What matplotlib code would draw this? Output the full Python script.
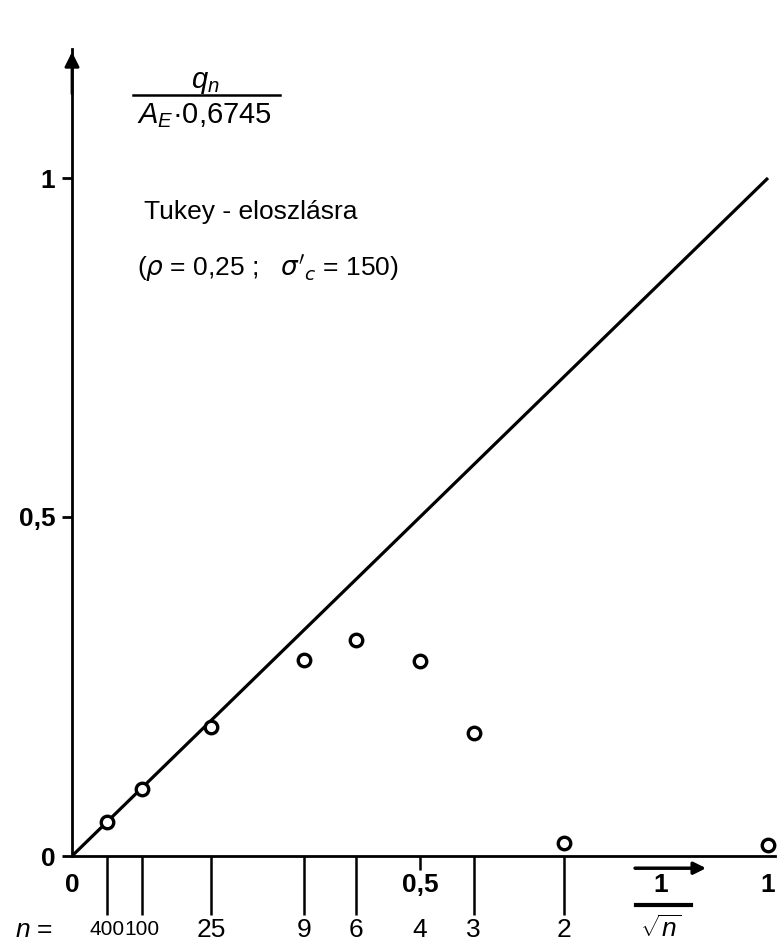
import matplotlib
matplotlib.use("Agg")
import matplotlib.pyplot as plt

plt.rcParams['font.family'] = ['Liberation Sans', 'DejaVu Sans']
plt.rcParams['mathtext.fontset'] = 'custom'
plt.rcParams['mathtext.it'] = 'Liberation Sans:italic'
plt.rcParams['mathtext.rm'] = 'Liberation Sans'

# adatok (leolvasva)
n_vals = [400, 100, 25, 9, 6, 4, 3, 2, 1]
x_vals = [0.05, 0.10, 0.20, 0.333, 0.408, 0.50, 0.577, 0.707, 1.0]
y_vals = [0.050, 0.099, 0.190, 0.289, 0.319, 0.288, 0.181, 0.019, 0.016]
n_labels = ['400', '100', '25', '9', '6', '4', '3', '2']

fig = plt.figure(figsize=(7.8, 9.49), dpi=100)
ax = fig.add_axes([72 / 780, 1 - 856 / 949, 1.01 * 696 / 780, 1.19 * 678 / 949])
ax.set_xlim(0, 1.01)
ax.set_ylim(0, 1.19)

for s in ['top', 'right']:
    ax.spines[s].set_visible(False)
ax.spines['left'].set_linewidth(2)
ax.spines['bottom'].set_linewidth(2)

# y tengely nyíl
ax.annotate('', xy=(0, 1.19), xytext=(0, 1.12),
            arrowprops=dict(arrowstyle='-|>', color='black', lw=2, mutation_scale=22),
            annotation_clip=False)

ax.set_yticks([0, 0.5, 1])
ax.set_yticklabels(['0', '0,5', '1'], fontsize=19, fontweight='bold')
ax.tick_params(axis='y', direction='out', length=7, width=2, pad=5)
ax.set_xticks([])

# egyenes y = x
ax.plot([0, 1], [0, 1], color='black', lw=2.3, solid_capstyle='butt')

# mérési pontok
ax.plot(x_vals, y_vals, 'o', ms=9, mfc='white', mec='black', mew=2.4, clip_on=False, zorder=5)

# n osztások
ax.vlines([x for x, n in zip(x_vals, n_vals) if n not in (4, 1)], -0.087, 0,
          color='black', lw=1.8, clip_on=False)
ax.vlines([0.5], -0.021, 0, color='black', lw=1.8, clip_on=False)
for x, lab in zip(x_vals, n_labels):
    fs = 15 if len(lab) == 3 else 19
    ax.text(x, -0.109, lab, ha='center', va='center', fontsize=fs)
ax.text(-0.055, -0.109, r'$n$ =', ha='center', va='center', fontsize=19)

# 1/sqrt(n) skála feliratok
for x, lab in [(0, '0'), (0.5, '0,5'), (1, '1')]:
    ax.text(x, -0.043, lab, ha='center', va='center', fontsize=19, fontweight='bold')

# 1/sqrt(n) tengelyfelirat
ax.annotate('', xy=(0.915, -0.018), xytext=(0.805, -0.018),
            arrowprops=dict(arrowstyle='-|>', color='black', lw=2.5, mutation_scale=18),
            annotation_clip=False)
ax.text(0.846, -0.043, '1', ha='center', va='center', fontsize=19, fontweight='bold')
ax.plot([0.81, 0.89], [-0.072, -0.072], color='black', lw=3, clip_on=False)
ax.text(0.845, -0.107, r'$\sqrt{n}$', ha='center', va='center', fontsize=19)

# y tengelyfelirat
ax.text(0.191, 1.142, r'$q_n$', ha='center', va='center', fontsize=21, fontweight='bold')
ax.plot([0.088, 0.299], [1.122, 1.122], color='black', lw=1.8, clip_on=False)
ax.text(0.191, 1.092, r'$A_E$' + '·0,6745', ha='center', va='center', fontsize=21)

ax.text(0.103, 0.950, 'Tukey - eloszlásra', ha='left', va='center', fontsize=19)
ax.text(0.093, 0.867, r"($\rho$ = 0,25 ;   $\sigma'_c$ = 150)", ha='left', va='center',
        fontsize=19, math_fontfamily='dejavusans')

fig.savefig('out.png', dpi=100)
